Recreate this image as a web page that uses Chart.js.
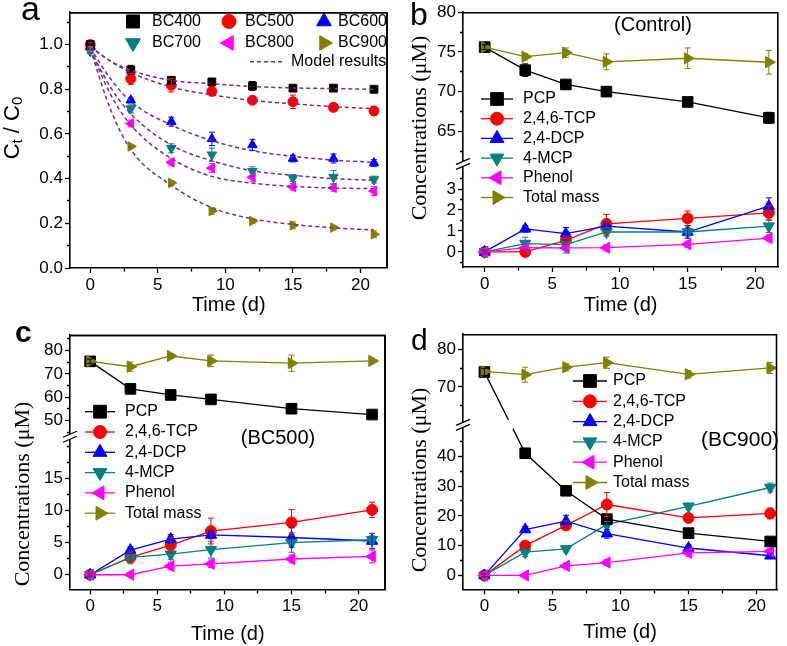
<!DOCTYPE html>
<html>
<head>
<meta charset="utf-8">
<title>PCP transformation with biochar</title>
<script src="https://cdn.jsdelivr.net/npm/chart.js@4.4.1/dist/chart.umd.min.js"></script>
<style>
  body { margin: 0; background: #fff; }
  .panel { position: absolute; width: 394px; height: 324px; }
  #frames { position: absolute; left: 0; top: 0; z-index: 5; pointer-events: none; }
</style>
</head>
<body>
<div class="panel" style="left:0px;top:0px"><canvas id="chartA"></canvas></div>
<div class="panel" style="left:393px;top:0px"><canvas id="chartB"></canvas></div>
<div class="panel" style="left:0px;top:322px"><canvas id="chartC"></canvas></div>
<div class="panel" style="left:393px;top:322px"><canvas id="chartD"></canvas></div>
<canvas id="frames" width="787" height="646"></canvas>
<script>
// ---- panel a : Ct/C0 for the six biochars ----
const daysA = [0, 3, 6, 9, 12, 15, 18, 21];
const bc400 = [1.0, 0.887, 0.84, 0.833, 0.815, 0.805, 0.805, 0.80];
const bc400Err = [0.01, 0.02, 0.015, 0.01, 0.02, 0.01, 0.01, 0.01];
const bc500 = [1.0, 0.847, 0.818, 0.791, 0.751, 0.744, 0.719, 0.703];
const bc500Err = [0.01, 0.025, 0.03, 0.02, 0.01, 0.03, 0.01, 0.02];
const bc600 = [0.99, 0.751, 0.655, 0.578, 0.551, 0.49, 0.49, 0.47];
const bc600Err = [0.01, 0.01, 0.02, 0.03, 0.025, 0.015, 0.02, 0.015];
const bc700 = [0.97, 0.714, 0.536, 0.507, 0.433, 0.403, 0.407, 0.396];
const bc700Err = [0.01, 0.02, 0.02, 0.03, 0.02, 0.015, 0.03, 0.015];
const bc800 = [0.98, 0.647, 0.473, 0.447, 0.406, 0.363, 0.359, 0.344];
const bc800Err = [0.01, 0.015, 0.015, 0.02, 0.02, 0.015, 0.015, 0.02];
const bc900 = [0.98, 0.544, 0.381, 0.255, 0.21, 0.191, 0.181, 0.151];
const bc900Err = [0.01, 0.01, 0.01, 0.015, 0.01, 0.015, 0.01, 0.015];

// model results (dashed curves)
const modelDays = [0, 1.5, 3, 6, 9, 12, 15, 18, 21];
const model400 = [0.99, 0.927, 0.885, 0.84, 0.825, 0.812, 0.806, 0.803, 0.80];
const model500 = [0.99, 0.925, 0.875, 0.81, 0.775, 0.75, 0.735, 0.722, 0.713];
const model600 = [0.985, 0.847, 0.745, 0.64, 0.57, 0.525, 0.50, 0.483, 0.473];
const model700 = [0.975, 0.809, 0.69, 0.55, 0.48, 0.435, 0.415, 0.40, 0.393];
const model800 = [0.98, 0.777, 0.64, 0.49, 0.41, 0.38, 0.365, 0.358, 0.355];
const model900 = [0.98, 0.71, 0.53, 0.37, 0.27, 0.22, 0.195, 0.18, 0.17];

// ---- panels b-d : concentrations (uM) ----
const daysB = [0, 3, 6, 9, 15, 21];

const ctrlPCP = [75.6, 72.7, 70.9, 70.0, 68.7, 66.7];
const ctrlPCPErr = [0.3, 0.8, 0.3, 0.6, 0.2, 0.7];
const ctrlTCP = [0, 0, 0.55, 1.34, 1.6, 1.86];
const ctrlTCPErr = [0.05, 0.05, 0.2, 0.45, 0.35, 0.35];
const ctrlDCP = [0, 1.1, 0.87, 1.23, 0.95, 2.18];
const ctrlDCPErr = [0.05, 0.15, 0.3, 0.15, 0.3, 0.4];
const ctrlMCP = [0, 0.4, 0.35, 0.95, 0.95, 1.23];
const ctrlMCPErr = [0.1, 0.3, 0.4, 0.2, 0.2, 0.3];
const ctrlPhenol = [0, 0.2, 0.19, 0.2, 0.36, 0.66];
const ctrlPhenolErr = [0.05, 0.1, 0.1, 0.15, 0.15, 0.15];
const ctrlTotal = [75.6, 74.4, 74.9, 73.75, 74.2, 73.7];
const ctrlTotalErr = [0.3, 0.4, 0.6, 1.0, 1.3, 1.5];

const bc5PCP = [75.4, 63.6, 61.0, 59.1, 55.1, 52.6];
const bc5PCPErr = [1, 1.5, 2, 1.5, 2, 1];
const bc5TCP = [0, 2.7, 4.6, 6.8, 8.15, 10.1];
const bc5TCPErr = [0.2, 0.8, 1.2, 2, 2, 1.2];
const bc5DCP = [0, 3.84, 5.55, 6.2, 5.8, 5.25];
const bc5DCPErr = [0.2, 0.5, 0.7, 0.6, 1.5, 1.2];
const bc5MCP = [0, 2.7, 3.2, 3.9, 5.0, 5.45];
const bc5MCPErr = [0.5, 1, 0.8, 1.3, 1.5, 0.6];
const bc5Phenol = [0, 0, 1.35, 1.7, 2.45, 2.85];
const bc5PhenolErr = [0.2, 0.2, 0.6, 0.6, 0.6, 1];
const bc5Total = [75.4, 73.1, 77.7, 75.6, 74.6, 75.6];
const bc5TotalErr = [1, 2, 1, 2.5, 3.5, 1];

const bc9PCP = [74.0, 41.0, 28.4, 18.9, 14.2, 11.4];
const bc9PCPErr = [1, 0.5, 0.5, 1.5, 0.5, 1];
const bc9TCP = [0, 10.0, 16.8, 23.8, 19.3, 20.8];
const bc9TCPErr = [0.5, 1, 1.5, 4, 1, 1.8];
const bc9DCP = [0, 15.4, 18.2, 14.0, 9.2, 6.6];
const bc9DCPErr = [0.5, 1, 2, 1.5, 1, 0.8];
const bc9MCP = [0, 7.8, 8.9, 17.1, 23.2, 29.5];
const bc9MCPErr = [0.5, 1.5, 1, 1, 1, 1.5];
const bc9Phenol = [0, 0, 3.2, 4.3, 7.6, 8.1];
const bc9PhenolErr = [0.3, 0.3, 1, 1, 1.2, 1];
const bc9Total = [74.2, 73.3, 75.3, 76.5, 73.4, 75.1];
const bc9TotalErr = [0.8, 2, 1, 1.5, 1, 1.5];

// tick marks
const xMajor = [0, 5, 10, 15, 20];
const xMinor = [2.5, 7.5, 12.5, 17.5];
const aMajor = [0, 0.2, 0.4, 0.6, 0.8, 1.0];
const aMinor = [0.1, 0.3, 0.5, 0.7, 0.9, 1.1];

const SANS = "'Liberation Sans', Arial, sans-serif";
const SERIF = "'Liberation Serif', 'Times New Roman', serif";
const MODEL = '#7b2a8c';
const AXIS_W = 1.6;

const bcStyles = [
  { label: 'BC400', color: '#000000', style: 'rect', rot: 0, r: 5.5 },
  { label: 'BC500', color: '#ff0000', style: 'circle', rot: 0, r: 5 },
  { label: 'BC600', color: '#0000ff', style: 'triangle', rot: 0, r: 5.5 },
  { label: 'BC700', color: '#008080', style: 'triangle', rot: 180, r: 5.5 },
  { label: 'BC800', color: '#ff00ff', style: 'triangle', rot: -90, r: 5.5 },
  { label: 'BC900', color: '#808000', style: 'triangle', rot: 90, r: 5.5 }
];
const compStyles = [
  { label: 'PCP', color: '#000000', style: 'rect', rot: 0, r: 7.5 },
  { label: '2,4,6-TCP', color: '#ff0000', style: 'circle', rot: 0, r: 5.5 },
  { label: '2,4-DCP', color: '#0000ff', style: 'triangle', rot: 0, r: 6.5 },
  { label: '4-MCP', color: '#008080', style: 'triangle', rot: 180, r: 6.5 },
  { label: 'Phenol', color: '#ff00ff', style: 'triangle', rot: -90, r: 6.5 },
  { label: 'Total mass', color: '#808000', style: 'triangle', rot: 90, r: 6.5 }
];

function pts(xs, ys) { return xs.map((x, i) => ({ x: x, y: ys[i] })); }
function isIn(list, v) { return list.some(m => Math.abs(m - v) < 1e-6); }

function axis(o) {
  const horizontal = o.position === 'bottom';
  const cfg = {
    type: 'linear', position: o.position, min: o.min, max: o.max,
    afterBuildTicks: s => {
      s.ticks = o.major.concat(o.minor).sort((a, b) => a - b).map(v => ({ value: v }));
    },
    afterFit: s => { if (horizontal) s.height = o.size; else s.width = o.size; },
    border: { display: true, color: '#000', width: AXIS_W },
    grid: {
      drawOnChartArea: false, drawTicks: true, tickLength: 5, tickColor: '#000', tickWidth: 1.3,
      tickBorderDash: c => (c.tick && !isIn(o.major, c.tick.value)) ? (horizontal ? [3, 10] : [0, 2, 3, 10]) : []
    },
    ticks: {
      autoSkip: false, maxRotation: 0, color: '#000', padding: o.pad,
      font: { family: SANS, size: 17 },
      callback: v => isIn(o.major, v) ? o.fmt(v) : ''
    }
  };
  if (o.title) {
    cfg.title = { display: true, text: o.title, color: '#000',
      font: { family: SANS, size: 20 }, padding: { top: 0, bottom: o.titlePad } };
  }
  if (o.stack) { cfg.stack = o.stack; cfg.stackWeight = o.weight; }
  return cfg;
}

function marker(ctx, s, r, x, y) {
  ctx.beginPath();
  if (s.style === 'circle') ctx.arc(x, y, r, 0, Math.PI * 2);
  else if (s.style === 'rect') { const h = r * Math.SQRT1_2; ctx.rect(x - h, y - h, 2 * h, 2 * h); }
  else {
    let a = s.rot * Math.PI / 180;
    for (let k = 0; k < 3; k++) {
      const px = x + Math.sin(a) * r, py = y - Math.cos(a) * r;
      if (k) ctx.lineTo(px, py); else ctx.moveTo(px, py);
      a += 2 * Math.PI / 3;
    }
    ctx.closePath();
  }
  ctx.fillStyle = s.color; ctx.strokeStyle = s.color; ctx.lineWidth = 1;
  ctx.fill(); ctx.stroke();
}

function series(s, xs, ys, errs, yAxisID, showLine) {
  return {
    label: s.label, data: pts(xs, ys), err: errs, xAxisID: 'x', yAxisID: yAxisID, showLine: showLine,
    borderColor: s.color, backgroundColor: s.color,
    pointBackgroundColor: s.color, pointBorderColor: s.color,
    pointStyle: s.style, pointRotation: s.rot, pointRadius: s.r, pointBorderWidth: 1,
    borderWidth: 1.3, tension: 0
  };
}

function modelLine(ys) {
  return {
    label: 'Model results', data: pts(modelDays, ys), xAxisID: 'x', yAxisID: 'y', showLine: true,
    borderColor: MODEL, borderWidth: 1.5, borderDash: [4, 3], pointRadius: 0,
    cubicInterpolationMode: 'monotone', fill: false
  };
}

const errorBars = {
  id: 'errorBars',
  afterDatasetsDraw(chart) {
    const ctx = chart.ctx;
    chart.data.datasets.forEach((ds, i) => {
      if (!ds.err) return;
      const meta = chart.getDatasetMeta(i);
      const ys = chart.scales[meta.yAxisID];
      ctx.save();
      ctx.setLineDash([]);
      ctx.strokeStyle = ds.borderColor; ctx.lineWidth = 1;
      meta.data.forEach((el, j) => {
        const v = ds.data[j].y, e = ds.err[j];
        if (!e) return;
        const top = ys.getPixelForValue(v + e), bot = ys.getPixelForValue(v - e);
        ctx.beginPath();
        ctx.moveTo(el.x, top); ctx.lineTo(el.x, bot);
        ctx.moveTo(el.x - 3, top); ctx.lineTo(el.x + 3, top);
        ctx.moveTo(el.x - 3, bot); ctx.lineTo(el.x + 3, bot);
        ctx.stroke();
      });
      ctx.restore();
    });
  }
};

// top and right sides of a plot frame, from the chart's own scales
function frameBox(chart) {
  const xs = chart.scales.x;
  const topY = (chart.scales.yU || chart.scales.y).top;
  return { left: xs.left, right: xs.right, top: topY, bottom: xs.top };
}
function strokeFrame(ctx, b, dx, dy) {
  ctx.save();
  ctx.setLineDash([]);
  ctx.strokeStyle = '#000'; ctx.lineWidth = AXIS_W;
  ctx.beginPath();
  ctx.moveTo(b.left + dx, b.top + dy + 0.5);
  ctx.lineTo(b.right + dx - 0.5, b.top + dy + 0.5);
  ctx.lineTo(b.right + dx - 0.5, b.bottom + dy);
  ctx.stroke();
  ctx.restore();
}

// frame, axis break, titles, letters and legends
function deco(cfg) {
  return {
    id: 'deco',
    afterDraw(chart) {
      const ctx = chart.ctx;
      strokeFrame(ctx, frameBox(chart), 0, 0);
      ctx.save();
      ctx.setLineDash([]);
      ctx.strokeStyle = '#000'; ctx.lineWidth = 1.2;
      if (chart.scales.yU) {
        const yb = chart.scales.yU.bottom, x = Math.round(chart.scales.yU.right);
        ctx.fillStyle = '#fff';
        ctx.fillRect(x - 2, yb - 2.5, 4, 5);
        ctx.beginPath();
        [-2.5, 2.5].forEach(d => { ctx.moveTo(x - 7, yb + d + 3); ctx.lineTo(x + 7, yb + d - 3); });
        ctx.stroke();
      }

      ctx.fillStyle = '#000';
      ctx.textAlign = 'left'; ctx.textBaseline = 'alphabetic';
      ctx.font = cfg.letterFont;
      ctx.fillText(cfg.letter, cfg.letterX, cfg.letterY);

      // y axis title
      ctx.save();
      ctx.translate(cfg.yTitleX, cfg.yTitleY);
      ctx.rotate(-Math.PI / 2);
      ctx.textBaseline = 'middle';
      let w = 0;
      cfg.yTitle.forEach(p => { ctx.font = p.font; w += ctx.measureText(p.text).width; });
      let cx = -w / 2;
      cfg.yTitle.forEach(p => {
        ctx.font = p.font; ctx.fillText(p.text, cx, p.dy || 0); cx += ctx.measureText(p.text).width;
      });
      ctx.restore();

      if (cfg.note) {
        ctx.textAlign = 'center'; ctx.textBaseline = 'middle';
        ctx.font = cfg.note.font;
        ctx.fillText(cfg.note.text, cfg.note.x, cfg.note.y);
      }

      ctx.textAlign = 'left'; ctx.textBaseline = 'middle';
      ctx.font = '16px ' + SANS;
      (cfg.legend || []).forEach(it => {
        if (it.line) {
          ctx.strokeStyle = it.line; ctx.lineWidth = it.width || 1.3;
          ctx.setLineDash(it.dash || []);
          ctx.beginPath(); ctx.moveTo(it.x1, it.y); ctx.lineTo(it.x2, it.y); ctx.stroke();
          ctx.setLineDash([]);
        }
        if (it.s) marker(ctx, it.s, it.r, it.mx, it.y);
        ctx.fillStyle = '#000';
        ctx.fillText(it.text, it.tx, it.y);
      });
      ctx.restore();
    }
  };
}

function compLegend(x1, x2, tx, y0, dy) {
  return compStyles.map((s, i) => ({
    s: s, r: s.style === 'rect' ? 9 : (s.style === 'circle' ? 6.5 : 8),
    line: s.color, x1: x1, x2: x2, mx: (x1 + x2) / 2, tx: tx, y: y0 + i * dy, text: s.label
  }));
}

const concTitle = [{ text: 'Concentrations (\u03bcM)', font: '22px ' + SERIF }];

function baseOptions(pad, scales) {
  return {
    responsive: true, maintainAspectRatio: false, animation: false, events: [],
    layout: { padding: pad },
    plugins: { legend: { display: false }, tooltip: { enabled: false } },
    scales: scales
  };
}

// ---------- panel a ----------
const legendA = [];
const colX = [133, 229, 324], colT = [152, 245, 338], rowY = [21.5, 43];
bcStyles.forEach((s, i) => {
  const c = i % 3, r = Math.floor(i / 3);
  legendA.push({ s: s, r: s.style === 'rect' ? 9.2 : (s.style === 'circle' ? 7 : 8.5),
    mx: colX[c], tx: colT[c], y: rowY[r], text: s.label });
});
legendA.push({ line: MODEL, width: 1.5, dash: [4, 3], x1: 250, x2: 283, tx: 291, y: 61.7, text: 'Model results' });

const bcData = [bc400, bc500, bc600, bc700, bc800, bc900];
const bcErr = [bc400Err, bc500Err, bc600Err, bc700Err, bc800Err, bc900Err];

const chartA = new Chart(document.getElementById('chartA'), {
  type: 'line',
  data: {
    datasets: [model400, model500, model600, model700, model800, model900].map(modelLine)
      .concat(bcStyles.map((s, i) => series(s, daysA, bcData[i], bcErr[i], 'y', false)))
  },
  options: baseOptions({ left: 0, top: 10, right: 3, bottom: 0 }, {
    x: axis({ position: 'bottom', min: -1.5, max: 22, major: xMajor, minor: xMinor,
      fmt: v => String(v), size: 56, pad: 2, title: 'Time (d)', titlePad: 7 }),
    y: axis({ position: 'left', min: 0, max: 1.145, major: aMajor, minor: aMinor,
      fmt: v => v.toFixed(1), size: 70, pad: 2 })
  }),
  plugins: [errorBars, deco({
    letter: 'a', letterFont: '34px ' + SANS, letterX: 21, letterY: 20,
    yTitleX: 13, yTitleY: 128,
    yTitle: [{ text: 'C', font: '22px ' + SANS }, { text: 't', font: '15px ' + SANS, dy: 5 },
             { text: ' / C', font: '22px ' + SANS }, { text: '0', font: '15px ' + SANS, dy: 5 }],
    legend: legendA
  })]
});

// ---------- panels b, c, d ----------
function brokenPanel(id, o) {
  const lowerIdx = [1, 2, 3, 4];
  const datasets = [];
  o.data.forEach((ys, i) => {
    if (lowerIdx.includes(i)) datasets.push(series(compStyles[i], daysB, ys, o.err[i], 'yL', true));
  });
  if (o.splitPCP) {
    datasets.push(series(compStyles[0], daysB.slice(1), o.data[0].slice(1), o.err[0].slice(1), 'yL', true));
    datasets.push(series(compStyles[0], daysB.slice(0, 1), o.data[0].slice(0, 1), o.err[0].slice(0, 1), 'yU', true));
  } else {
    datasets.push(series(compStyles[0], daysB, o.data[0], o.err[0], 'yU', true));
  }
  datasets.push(series(compStyles[5], daysB, o.data[5], o.err[5], 'yU', true));
  datasets.reverse();

  const plugins = [errorBars, deco(o.deco)];
  if (o.splitPCP) {
    plugins.push({
      id: 'bridge',
      beforeDatasetsDraw(chart) {
        const xs = chart.scales.x, yU = chart.scales.yU, yL = chart.scales.yL;
        const x0 = xs.getPixelForValue(daysB[0]), y0 = yU.getPixelForValue(o.data[0][0]);
        const x1 = xs.getPixelForValue(daysB[1]), y1 = yL.getPixelForValue(o.data[0][1]);
        const yb = yU.bottom;
        const at = y => x0 + (x1 - x0) * (y - y0) / (y1 - y0);
        const ctx = chart.ctx;
        ctx.save();
        ctx.setLineDash([]);
        ctx.strokeStyle = '#000'; ctx.lineWidth = 1.3;
        ctx.beginPath();
        ctx.moveTo(x0, y0); ctx.lineTo(at(yb - 5), yb - 5);
        ctx.moveTo(at(yb + 4), yb + 4); ctx.lineTo(x1, y1);
        ctx.stroke();
        ctx.restore();
      }
    });
  }

  return new Chart(document.getElementById(id), {
    type: 'line',
    data: { datasets: datasets },
    options: baseOptions(o.pad, {
      x: axis({ position: 'bottom', min: o.xMin, max: o.xMax, major: xMajor, minor: xMinor,
        fmt: v => String(v), size: o.xSize, pad: 2, title: 'Time (d)', titlePad: o.titlePad }),
      yL: axis({ position: 'left', min: o.lower[0], max: o.lower[1], major: o.lowerMajor, minor: o.lowerMinor,
        fmt: v => String(v), size: 70, pad: 2, stack: 'conc', weight: o.lower[2] }),
      yU: axis({ position: 'left', min: o.upper[0], max: o.upper[1], major: o.upperMajor, minor: o.upperMinor,
        fmt: v => String(v), size: 70, pad: 2, stack: 'conc', weight: o.upper[2] })
    }),
    plugins: plugins
  });
}

const chartB = brokenPanel('chartB', {
  data: [ctrlPCP, ctrlTCP, ctrlDCP, ctrlMCP, ctrlPhenol, ctrlTotal],
  err: [ctrlPCPErr, ctrlTCPErr, ctrlDCPErr, ctrlMCPErr, ctrlPhenolErr, ctrlTotalErr],
  pad: { left: 0, top: 10, right: 8.7, bottom: 0 }, xSize: 57, titlePad: 7,
  xMin: -1.6, xMax: 21.7,
  upper: [60.9, 80, 153], upperMajor: [65, 70, 75, 80], upperMinor: [62.5, 67.5, 72.5, 77.5],
  lower: [-0.72, 4.2, 104], lowerMajor: [0, 1, 2, 3], lowerMinor: [-0.5, 0.5, 1.5, 2.5, 3.5],
  deco: {
    letter: 'b', letterFont: '32px ' + SANS, letterX: 17, letterY: 25,
    yTitleX: 27, yTitleY: 128, yTitle: concTitle,
    note: { text: '(Control)', font: '20px ' + SANS, x: 260, y: 25 },
    legend: compLegend(88, 120, 130, 99, 19.7)
  }
});

const chartC = brokenPanel('chartC', {
  data: [bc5PCP, bc5TCP, bc5DCP, bc5MCP, bc5Phenol, bc5Total],
  err: [bc5PCPErr, bc5TCPErr, bc5DCPErr, bc5MCPErr, bc5PhenolErr, bc5TotalErr],
  pad: { left: 0, top: 13, right: 3, bottom: 0 }, xSize: 56.7, titlePad: 0,
  xMin: -1.5, xMax: 22,
  upper: [43.1, 86.7, 101.7], upperMajor: [50, 60, 70, 80], upperMinor: [45, 55, 65, 75, 85],
  lower: [-2.27, 21.5, 152.6], lowerMajor: [0, 5, 10, 15], lowerMinor: [2.5, 7.5, 12.5, 17.5, 20],
  deco: {
    letter: 'c', letterFont: 'bold 30px ' + SANS, letterX: 15, letterY: 20,
    yTitleX: 23, yTitleY: 172, yTitle: concTitle,
    note: { text: '(BC500)', font: '20px ' + SANS, x: 278, y: 116 },
    legend: compLegend(85, 115, 125, 89.7, 20.3)
  }
});

const chartD = brokenPanel('chartD', {
  data: [bc9PCP, bc9TCP, bc9DCP, bc9MCP, bc9Phenol, bc9Total],
  err: [bc9PCPErr, bc9TCPErr, bc9DCPErr, bc9MCPErr, bc9PhenolErr, bc9TotalErr],
  splitPCP: true,
  pad: { left: 0, top: 9.7, right: 10, bottom: 0 }, xSize: 56.7, titlePad: 2,
  xMin: -1.57, xMax: 21.5,
  upper: [59.84, 84.14, 91.6], upperMajor: [70, 80], upperMinor: [65, 75],
  lower: [-4.65, 50.5, 166], lowerMajor: [0, 10, 20, 30, 40], lowerMinor: [5, 15, 25, 35, 45],
  deco: {
    letter: 'd', letterFont: '30px ' + SANS, letterX: 18, letterY: 28,
    yTitleX: 27, yTitleY: 158, yTitle: concTitle,
    note: { text: '(BC900)', font: '21px ' + SANS, x: 347, y: 118 },
    legend: compLegend(180, 214, 220, 59, 20.3)
  }
});

// overlay: frame sides of the left-column panels, placed from their scales
function drawOverlayFrames() {
  const ov = document.getElementById('frames').getContext('2d');
  ov.clearRect(0, 0, 787, 646);
  [[chartA, 0, 0], [chartC, 0, 322]].forEach(([ch, dx, dy]) => strokeFrame(ov, frameBox(ch), dx, dy));
}
drawOverlayFrames();
window.addEventListener('load', drawOverlayFrames);
</script>
</body>
</html>
